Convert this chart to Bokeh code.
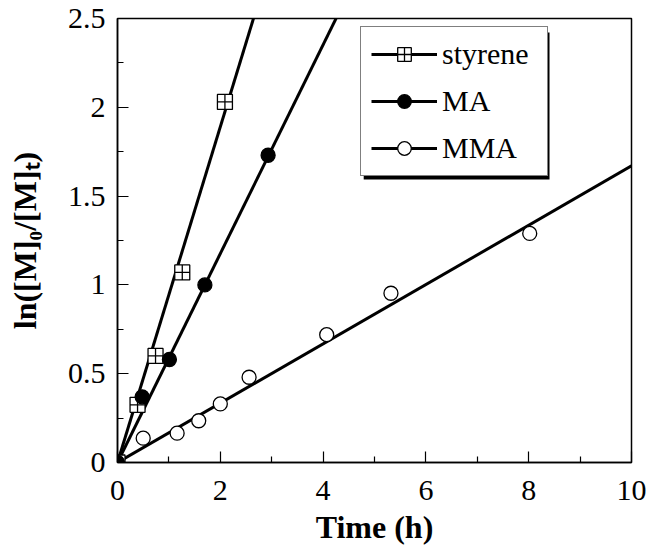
import numpy as np
from bokeh.plotting import figure
from bokeh.models import (Legend, LegendItem, Range1d, FixedTicker, BoxAnnotation)
from bokeh.embed import file_html
from bokeh.resources import INLINE

# ---- data ----
sty_t = [0.0, 0.39, 0.74, 1.26, 2.09]
sty_y = [0.0, 0.325, 0.60, 1.07, 2.03]
ma_t = [0.0, 0.48, 1.01, 1.70, 2.93]
ma_y = [0.0, 0.37, 0.58, 1.00, 1.73]
mma_t = [0.0, 0.50, 1.16, 1.58, 2.00, 2.56, 4.07, 5.32, 8.02]
mma_y = [0.0, 0.137, 0.165, 0.235, 0.33, 0.48, 0.72, 0.953, 1.29]
fit_slope = [0.945, 0.588, 0.167]   # styrene, MA, MMA (fitted lines)
series_names = ["styrene", "MA", "MMA"]
x_ticks = [0, 2, 4, 6, 8, 10]
x_minor = [1, 3, 5, 7, 9]
y_ticks = [0, 0.5, 1, 1.5, 2, 2.5]
y_minor = [0.25, 0.75, 1.25, 1.75, 2.25]
x_title = "Time (h)"
y_title = "ln([M]\u2080/[M]\u209c)"

FONT = "Liberation Serif"

p = figure(width=651, height=552, x_range=Range1d(0, 10), y_range=Range1d(0, 2.5),
           output_backend="svg", toolbar_location=None,
           min_border_left=117, min_border_right=20, min_border_top=18, min_border_bottom=90)
p.grid.visible = False
p.outline_line_color = "black"
p.outline_line_width = 1.5
p.background_fill_color = "white"
p.border_fill_color = "white"

for ax in (p.xaxis[0], p.yaxis[0]):
    ax.axis_line_width = 1.5
    ax.major_tick_in = 11
    ax.major_tick_out = 0
    ax.minor_tick_in = 6
    ax.minor_tick_out = 0
    ax.major_tick_line_width = 1.2
    ax.minor_tick_line_width = 1.2
    ax.major_label_text_font = FONT
    ax.major_label_text_font_size = "30px"
    ax.major_label_text_color = "black"
    ax.axis_label_text_font = FONT
    ax.axis_label_text_font_size = "32px"
    ax.axis_label_text_font_style = "bold"
    ax.axis_label_text_color = "black"

p.xaxis.ticker = FixedTicker(ticks=x_ticks, minor_ticks=x_minor)
p.yaxis.ticker = FixedTicker(ticks=y_ticks, minor_ticks=y_minor)
p.xaxis.major_label_standoff = 18
p.yaxis.major_label_standoff = 12
p.xaxis.axis_label = x_title
p.xaxis.axis_label_standoff = 6
p.yaxis.axis_label = y_title
p.yaxis.axis_label_standoff = 22

# fitted lines
xs_fit = np.array([0.0, 10.0])
lines = []
for s in fit_slope:
    lines.append(p.line(xs_fit, s * xs_fit, line_color="black", line_width=3))

r_mma = p.scatter(mma_t, mma_y, marker="circle", size=14, fill_color="white",
                  line_color="black", line_width=1.3)
r_sty = p.scatter(sty_t, sty_y, marker="square_cross", size=15, fill_color="white",
                  line_color="black", line_width=1.3)
r_ma = p.scatter(ma_t, ma_y, marker="circle", size=14, fill_color="black",
                 line_color="black", line_width=1.3)

# legend drop shadow (data units)
shadow = BoxAnnotation(left=4.79, right=8.405, top=2.421, bottom=1.593,
                       fill_color="black", fill_alpha=1.0, line_color=None, level="annotation")
p.add_layout(shadow)

legend = Legend(items=[
    LegendItem(label=series_names[0], renderers=[lines[0], r_sty]),
    LegendItem(label=series_names[1], renderers=[lines[1], r_ma]),
    LegendItem(label=series_names[2], renderers=[lines[2], r_mma]),
], location=(243, 286))
legend.label_text_font = FONT
legend.label_text_font_size = "30px"
legend.label_text_color = "black"
legend.glyph_width = 66
legend.glyph_height = 34
legend.label_height = 34
legend.label_width = 95
legend.label_standoff = 5
legend.spacing = 13
legend.padding = 10
legend.margin = 0
legend.border_line_color = "black"
legend.border_line_width = 1.5
legend.background_fill_color = "white"
legend.background_fill_alpha = 1.0
p.add_layout(legend, "center")

open("out.html", "w").write(file_html(p, INLINE))
